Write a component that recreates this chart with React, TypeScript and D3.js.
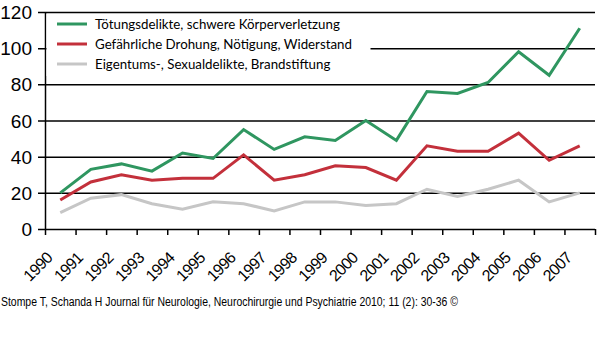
import React, { useEffect, useRef } from "react";
import * as d3 from "d3";

const years = ["1990", "1991", "1992", "1993", "1994", "1995", "1996", "1997", "1998", "1999", "2000", "2001", "2002", "2003", "2004", "2005", "2006", "2007"];
const toetung = [20, 33, 36, 32, 42, 39, 55, 44, 51, 49, 60, 49, 76, 75, 81, 98, 85, 111];
const drohung = [16, 26, 30, 27, 28, 28, 41, 27, 30, 35, 34, 27, 46, 43, 43, 53, 38, 46];
const eigentum = [9, 17, 19, 14, 11, 15, 14, 10, 15, 15, 13, 14, 22, 18, 22, 27, 15, 20];
const yTicks = [0, 20, 40, 60, 80, 100, 120];

const seriesNames = [
  "Tötungsdelikte, schwere Körperverletzung",
  "Gefährliche Drohung, Nötigung, Widerstand",
  "Eigentums-, Sexualdelikte, Brandstiftung",
];
const seriesColors = ["#2f9660", "#c3303b", "#c6c6c6"];

const width = 600;
const height = 352;
const margin = { top: 12, right: 5, bottom: 123, left: 45 };

function App() {
  const ref = useRef<SVGSVGElement>(null);

  useEffect(() => {
    const svg = d3.select(ref.current);
    svg.selectAll("*").remove();

    const x = d3
      .scaleBand()
      .domain(years)
      .range([margin.left, width - margin.right]);
    const y = d3
      .scaleLinear()
      .domain([0, 120])
      .range([height - margin.bottom, margin.top]);

    // gridlines with ticks on the left
    svg
      .append("g")
      .selectAll("line")
      .data(yTicks)
      .join("line")
      .attr("x1", margin.left - 7)
      .attr("x2", width - margin.right)
      .attr("y1", (d) => y(d) + 0.5)
      .attr("y2", (d) => y(d) + 0.5)
      .attr("stroke", "#000")
      .attr("stroke-width", 1.5);

    svg
      .append("g")
      .selectAll("text")
      .data(yTicks)
      .join("text")
      .attr("x", 32)
      .attr("y", (d) => y(d) + 7)
      .attr("text-anchor", "end")
      .style("font-family", "Liberation Sans, Arial, sans-serif")
      .style("font-size", "19px")
      .text((d) => d);

    // y axis line
    svg
      .append("line")
      .attr("x1", margin.left + 0.5)
      .attr("x2", margin.left + 0.5)
      .attr("y1", y(120))
      .attr("y2", y(0))
      .attr("stroke", "#000")
      .attr("stroke-width", 1.5);

    // x axis ticks at band boundaries
    const bounds = years.map((d) => x(d) as number).concat([width - margin.right]);
    svg
      .append("g")
      .selectAll("line")
      .data(bounds)
      .join("line")
      .attr("x1", (d) => d + 0.5)
      .attr("x2", (d) => d + 0.5)
      .attr("y1", y(0))
      .attr("y2", y(0) + 6)
      .attr("stroke", "#000")
      .attr("stroke-width", 1.5);

    svg
      .append("g")
      .selectAll("text")
      .data(years)
      .join("text")
      .attr(
        "transform",
        (d) => `translate(${(x(d) as number) + x.bandwidth() / 2 - 7},${y(0) + 30}) rotate(-45)`
      )
      .attr("text-anchor", "end")
      .style("font-family", "Liberation Sans, Arial, sans-serif")
      .style("font-size", "16px")
      .style("letter-spacing", "-0.7px")
      .text((d) => d);

    // legend box
    svg
      .append("rect")
      .attr("x", margin.left + 1.5)
      .attr("y", 14)
      .attr("width", 324)
      .attr("height", 62)
      .attr("fill", "#fff");

    const line = d3
      .line<number>()
      .x((_, i) => (x(years[i]) as number) + x.bandwidth() / 2)
      .y((d) => y(d));

    [toetung, drohung, eigentum].forEach((vals, i) => {
      svg
        .append("path")
        .datum(vals)
        .attr("d", line)
        .attr("fill", "none")
        .attr("stroke", seriesColors[i])
        .attr("stroke-width", 3)
        .attr("stroke-linejoin", "miter");
    });

    const legend = svg
      .append("g")
      .selectAll("g")
      .data(seriesNames)
      .join("g")
      .attr("transform", (_, i) => `translate(57,${24 + i * 20})`);
    legend
      .append("line")
      .attr("x1", 0)
      .attr("x2", 30)
      .attr("stroke", (_, i) => seriesColors[i])
      .attr("stroke-width", 3);
    legend
      .append("text")
      .attr("x", 38)
      .attr("y", 5)
      .style("font-family", "Lato, sans-serif")
      .style("font-size", "13.3px")
      .text((d) => d);

    // source line
    svg
      .append("text")
      .attr("x", 1)
      .attr("y", 306)
      .attr("textLength", 457)
      .attr("lengthAdjust", "spacingAndGlyphs")
      .style("font-family", "Liberation Sans, Arial, sans-serif")
      .style("font-size", "12px")
      .text("Stompe T, Schanda H Journal für Neurologie, Neurochirurgie und Psychiatrie 2010; 11 (2): 30-36 ©");
  }, []);

  return (
    <svg
      ref={ref}
      width={width}
      height={height}
      style={{ position: "absolute", left: 0, top: 0, background: "#fff" }}
    ></svg>
  );
}

export default App;
